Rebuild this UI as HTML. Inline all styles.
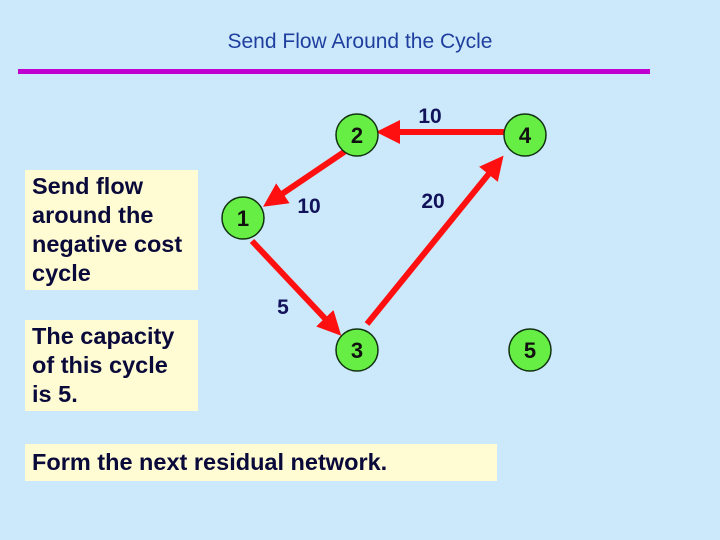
<!DOCTYPE html>
<html><head><style>
body{margin:0;width:720px;height:540px;background:#cce9fb;position:relative;font-family:"Liberation Sans",sans-serif;overflow:hidden}
.t{position:absolute;left:0;width:720px;top:30px;text-align:center;font-size:21px;color:#1f3f9f}
.box{position:absolute;background:#fffbd3;font-size:23.5px;font-weight:bold;color:#0a0a3a;line-height:29px;padding:2px 0 0 7px;box-sizing:border-box;white-space:nowrap}
</style></head><body>
<div class="t">Send Flow Around the Cycle</div>
<div style="position:absolute;left:18px;top:69px;width:632px;height:5px;background:#c000d0"></div>
<div class="box" style="left:25px;top:170px;width:173px;height:120px">Send flow<br>around the<br>negative cost<br>cycle</div>
<div class="box" style="left:25px;top:320px;width:173px;height:91px">The capacity<br>of this cycle<br>is 5.</div>
<div class="box" style="left:25px;top:444px;width:472px;height:37px;line-height:37px;padding-top:0">Form the next residual network.</div>
<svg width="720" height="540" style="position:absolute;left:0;top:0" font-family="Liberation Sans" font-weight="bold">
<defs><marker id="a" markerWidth="4" markerHeight="4" refX="2" refY="2" orient="auto" markerUnits="strokeWidth"><path d="M0,0 L4,2 L0,4z" fill="#ff1010"/></marker></defs>
<g stroke="#ff1010" stroke-width="6" marker-end="url(#a)">
<line x1="504" y1="132" x2="388" y2="132"/>
<line x1="347" y1="150" x2="273" y2="200"/>
<line x1="252" y1="241" x2="333" y2="327"/>
<line x1="367" y1="324" x2="496" y2="165"/>
</g>
<g fill="#66ee44" stroke="#113311" stroke-width="1.5">
<circle cx="357" cy="135" r="21"/><circle cx="525" cy="135" r="21"/>
<circle cx="243" cy="218" r="21"/><circle cx="357" cy="350" r="21"/><circle cx="530" cy="350" r="21"/>
</g>
<g font-size="22" text-anchor="middle" fill="#111">
<text x="357" y="143">2</text><text x="525" y="143">4</text><text x="243" y="226">1</text><text x="357" y="358">3</text><text x="530" y="358">5</text>
</g>
<g font-size="21" text-anchor="middle" fill="#12125a">
<text x="430" y="123">10</text><text x="309" y="213">10</text><text x="433" y="208">20</text><text x="283" y="314">5</text>
</g>
</svg>
</body></html>
